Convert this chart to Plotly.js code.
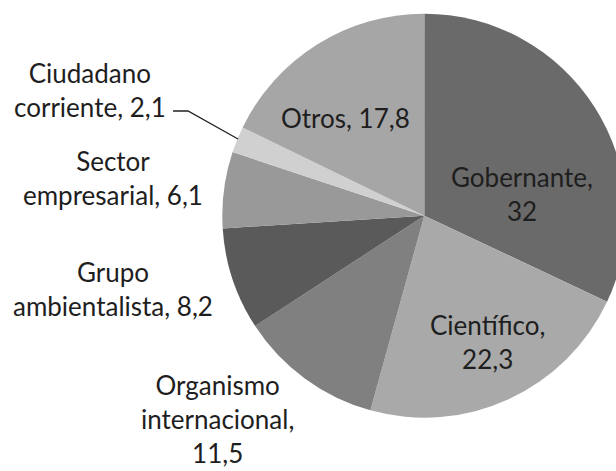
<!DOCTYPE html>
<html>
<head>
<meta charset="utf-8">
<script src="https://cdn.plot.ly/plotly-3.0.1.min.js"></script>
<style>
html,body{margin:0;padding:0;overflow:hidden;background:#fff;}
#chart{width:650px;height:471px;}
</style>
</head>
<body>
<div id="chart"></div>
<script>
const labels = ["Gobernante", "Científico", "Organismo internacional", "Grupo ambientalista", "Sector empresarial", "Ciudadano corriente", "Otros"];
const wrappedLabels = ["Gobernante,<br>", "Científico,<br>", "Organismo<br>internacional,<br>", "Grupo<br>ambientalista, ", "Sector<br>empresarial, ", "Ciudadano<br>corriente, ", "Otros, "];
const values = [32, 22.3, 11.5, 8.2, 6.1, 2.1, 17.8];
const colors = ["#6a6a6a", "#a9a9a9", "#808080", "#5a5a5a", "#999999", "#d0d0d0", "#a6a6a6"];

const W = 650, H = 471;
// label centres in pixels (layout only)
const labelPos = [[522, 194], [487, 342], [217, 419], [113, 289], [113, 178], [90, 90], [346, 118]];

const fmt = v => v.toString().replace('.', ',');

const annotations = labels.map((l, i) => ({
  text: wrappedLabels[i] + fmt(values[i]),
  xref: 'paper', yref: 'paper',
  x: labelPos[i][0] / W, y: 1 - labelPos[i][1] / H,
  xanchor: 'center', yanchor: 'middle',
  showarrow: false,
  font: {family: 'Lato, "Open Sans", sans-serif', size: 26, color: '#1e1e1e'}
}));

const px = (x, y) => (x / W).toFixed(4) + ',' + (1 - y / H).toFixed(4);

const data = [{
  type: 'pie',
  labels: labels,
  values: values,
  sort: false,
  direction: 'clockwise',
  rotation: 0,
  marker: {colors: colors, line: {width: 0}},
  textinfo: 'none',
  hoverinfo: 'label+value',
  showlegend: false,
  domain: {x: [222.3 / W, 626.3 / W], y: [(H - 215.7 - 202) / H, (H - 215.7 + 202) / H]}
}];

const layout = {
  width: W, height: H,
  margin: {l: 0, r: 0, t: 0, b: 0},
  paper_bgcolor: '#ffffff',
  showlegend: false,
  annotations: annotations,
  shapes: [{
    type: 'path', xref: 'paper', yref: 'paper',
    path: 'M' + px(173, 111) + ' L' + px(188, 111) + ' L' + px(238, 139),
    line: {color: '#222222', width: 1.3}
  }]
};

Plotly.newPlot('chart', data, layout, {displayModeBar: false, staticPlot: true});
</script>
</body>
</html>
